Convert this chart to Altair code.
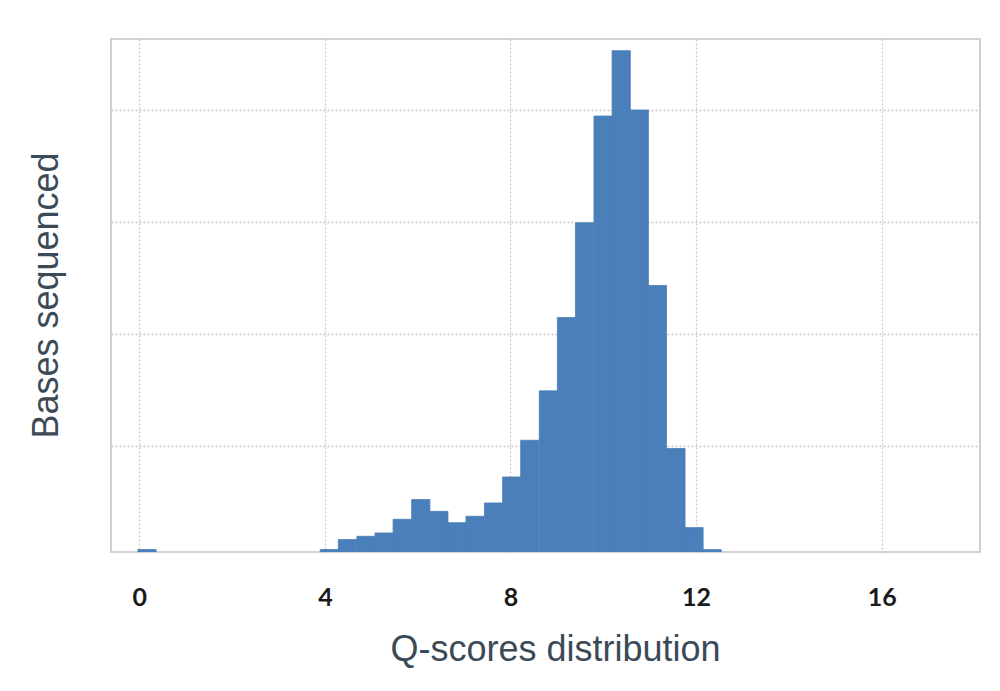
import altair as alt
import pandas as pd

# Histogram bins (Q-score) and heights (relative units, gridlines at 1..4)
bin_start = [-0.03, 3.90, 4.29, 4.69, 5.08, 5.47, 5.87, 6.26, 6.65, 7.04, 7.44,
             7.83, 8.22, 8.62, 9.01, 9.40, 9.80, 10.19, 10.58, 10.97, 11.37,
             11.76, 12.15]
bases = [0.075, 0.075, 0.164, 0.193, 0.223, 0.345, 0.521, 0.416, 0.315, 0.372,
         0.491, 0.723, 1.051, 1.492, 2.147, 2.993, 3.946, 4.530, 4.000, 2.433,
         0.977, 0.271, 0.074]
bin_width = 0.393

x_ticks = [0, 4, 8, 12, 16]
y_grid = [1, 2, 3, 4]

df = pd.DataFrame({"start": bin_start, "bases": bases})
df["end"] = df["start"] + bin_width
df["base0"] = 0.0

title_font = "Liberation Sans"
title_color = "#3b4a57"
bar_color = "#4a7fb9"

chart = alt.Chart(df).mark_bar(color=bar_color, clip=True, stroke=bar_color,
                               strokeWidth=0.8).encode(
    x=alt.X("start:Q",
            scale=alt.Scale(domain=[-0.61, 18.12], nice=False, zero=False),
            axis=alt.Axis(values=x_ticks, title="Q-scores distribution",
                          ticks=False, domain=False,
                          labelFont="Lato", labelFontWeight="bold",
                          labelFontSize=25, labelColor="#1a1a1a",
                          labelBaseline="alphabetic", labelPadding=53,
                          titleFont=title_font, titleFontSize=36,
                          titleFontWeight="normal", titleColor=title_color,
                          titleX=444, titleY=108, titleAlign="center",
                          titleBaseline="alphabetic",
                          grid=True, gridDash=[2, 2], gridColor="#c8c8c8",
                          gridWidth=1.3)),
    x2="end:Q",
    y=alt.Y("bases:Q",
            scale=alt.Scale(domain=[0.053, 4.634], nice=False, zero=False),
            axis=alt.Axis(values=y_grid, title="Bases sequenced",
                          labels=False, ticks=False, domain=False,
                          titleFont=title_font, titleFontSize=36,
                          titleFontWeight="normal", titleColor=title_color,
                          titleX=-54, titleY=256, titleAlign="center",
                          titleBaseline="alphabetic", titleAngle=270,
                          grid=True, gridDash=[2, 2], gridColor="#c8c8c8",
                          gridWidth=1.3)),
    y2="base0:Q",
).properties(
    width=869,
    height=513,
    autosize=alt.AutoSizeParams(type="none"),
    padding={"left": 103, "top": 31, "right": 10, "bottom": 120},
).configure_view(
    stroke="#c4c4c4", strokeWidth=1.6
)

chart.save("out.html", embed_options={"renderer": "svg", "actions": False})
